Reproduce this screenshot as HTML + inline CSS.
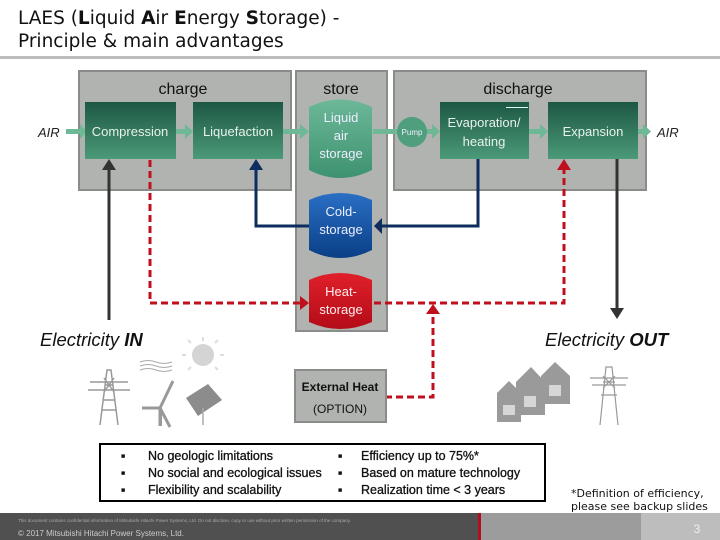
<!DOCTYPE html>
<html><head><meta charset="utf-8"><style>
body{margin:0;width:720px;height:540px;overflow:hidden;background:#fff;font-family:"Liberation Sans",sans-serif}
svg{position:absolute;left:0;top:0}
</style></head><body>
<svg width="720" height="540" viewBox="0 0 720 540" xmlns="http://www.w3.org/2000/svg" font-family="Liberation Sans, sans-serif">
<defs>
<linearGradient id="gb" x1="0" y1="0" x2="0" y2="1"><stop offset="0" stop-color="#1d5744"/><stop offset="1" stop-color="#4b9a78"/></linearGradient>
<linearGradient id="gl" x1="0" y1="0" x2="0" y2="1"><stop offset="0" stop-color="#6cb898"/><stop offset="1" stop-color="#3e9270"/></linearGradient>
<linearGradient id="gc" x1="0" y1="0" x2="0" y2="1"><stop offset="0" stop-color="#2a6fc4"/><stop offset="1" stop-color="#0a3f86"/></linearGradient>
<linearGradient id="gr" x1="0" y1="0" x2="0" y2="1"><stop offset="0" stop-color="#e0202a"/><stop offset="1" stop-color="#b30c18"/></linearGradient>
</defs>
<text x="18" y="24" font-size="18.5" fill="#111" font-family="DejaVu Sans, sans-serif">LAES (<tspan font-weight="bold">L</tspan>iquid <tspan font-weight="bold">A</tspan>ir <tspan font-weight="bold">E</tspan>nergy <tspan font-weight="bold">S</tspan>torage) -</text>
<text x="18" y="47" font-size="18.5" fill="#111" font-family="DejaVu Sans, sans-serif">Principle &amp; main advantages</text>
<rect x="0" y="56" width="720" height="3" fill="#bdbdbd"/>

<rect x="79" y="71" width="212" height="119" fill="#b0b3b0" stroke="#8a8c8a" stroke-width="2"/>
<rect x="296" y="71" width="91" height="260" fill="#b0b3b0" stroke="#8a8c8a" stroke-width="2"/>
<rect x="394" y="71" width="252" height="119" fill="#b0b3b0" stroke="#8a8c8a" stroke-width="2"/>
<text x="183" y="94" font-size="16" text-anchor="middle" fill="#111">charge</text>
<text x="341" y="94" font-size="16" text-anchor="middle" fill="#111">store</text>
<text x="518" y="94" font-size="16" text-anchor="middle" fill="#111">discharge</text>

<g fill="#6fb895">
<rect x="66" y="129" width="16" height="5"/><polygon points="80,124 87,131.5 80,139"/>
<rect x="176" y="129" width="11" height="5"/><polygon points="185,124 193,131.5 185,139"/>
<rect x="283" y="129" width="19" height="5"/><polygon points="300,124 309,131.5 300,139"/>
<rect x="373" y="129" width="24" height="5"/>
<rect x="425" y="129" width="10" height="5"/><polygon points="432,124 440,131.5 432,139"/>
<rect x="529" y="129" width="12" height="5"/><polygon points="540,124 548,131.5 540,139"/>
<rect x="638" y="129" width="7" height="5"/><polygon points="643,124 651,131.5 643,139"/>
</g>
<rect x="389" y="71" width="3" height="120" fill="#fff"/>
<rect x="389" y="129" width="3" height="5" fill="#6fb895"/>
<text x="38" y="137" font-size="13" font-style="italic" fill="#222">AIR</text>
<text x="657" y="137" font-size="13" font-style="italic" fill="#222">AIR</text>

<rect x="85" y="102" width="91" height="57" fill="url(#gb)"/>
<rect x="193" y="102" width="90" height="57" fill="url(#gb)"/>
<rect x="440" y="102" width="89" height="57" fill="url(#gb)"/>
<rect x="548" y="102" width="90" height="57" fill="url(#gb)"/>
<g fill="#e8f2ec" font-size="13" text-anchor="middle">
<text x="130" y="136">Compression</text>
<text x="238" y="136">Liquefaction</text>
<text x="484" y="127">Evaporation/</text>
<text x="484" y="146">heating</text>
<text x="593" y="136">Expansion</text>
</g>
<rect x="506" y="107" width="22" height="1" fill="#dfe"/>
<circle cx="412" cy="132" r="15" fill="#4f9e7c"/>
<text x="412" y="135" font-size="8" text-anchor="middle" fill="#eef">Pump</text>

<path d="M309,107 Q340,92 372,107 L372,170 Q340,186 309,170 Z" fill="url(#gl)"/>
<g fill="#eef" font-size="13" text-anchor="middle"><text x="341" y="122">Liquid</text><text x="341" y="140">air</text><text x="341" y="158">storage</text></g>
<path d="M309,200 Q340,186 372,200 L372,250 Q340,266 309,250 Z" fill="url(#gc)"/>
<g fill="#eef" font-size="13" text-anchor="middle"><text x="341" y="216">Cold-</text><text x="341" y="234">storage</text></g>
<path d="M309,280 Q340,266 372,280 L372,322 Q340,336 309,322 Z" fill="url(#gr)"/>
<g fill="#fee" font-size="13" text-anchor="middle"><text x="341" y="296">Heat-</text><text x="341" y="314">storage</text></g>

<g stroke="#0c2d5e" stroke-width="3" fill="none">
<polyline points="309,226 256,226 256,168"/>
<polyline points="478,159 478,226 382,226"/>
</g>
<polygon points="249,170 256,159 263,170" fill="#0c2d5e"/>
<polygon points="382,218 374,226 382,234" fill="#0c2d5e"/>

<g stroke="#c0101e" stroke-width="3" fill="none" stroke-dasharray="7,4">
<polyline points="150,160 150,303 300,303"/>
<polyline points="374,303 564,303 564,168"/>
<polyline points="385,397 433,397 433,313"/>
</g>
<polygon points="300,296 309,303 300,310" fill="#c0101e"/>
<polygon points="557,170 564,159 571,170" fill="#c0101e"/>
<polygon points="426,314 433,304 440,314" fill="#c0101e"/>

<rect x="107.5" y="168" width="3" height="152" fill="#333"/>
<polygon points="102,170 109,159 116,170" fill="#333"/>
<rect x="615.5" y="159" width="3" height="150" fill="#333"/>
<polygon points="610,308 617,319 624,308" fill="#333"/>

<text x="40" y="346" font-size="18.5" font-style="italic" fill="#111">Electricity <tspan font-weight="bold">IN</tspan></text>
<text x="545" y="346" font-size="18.5" font-style="italic" fill="#111">Electricity <tspan font-weight="bold">OUT</tspan></text>

<rect x="295" y="370" width="91" height="52" fill="#b0b3b0" stroke="#8a8c8a" stroke-width="2"/>
<text x="340" y="391" font-size="12" text-anchor="middle" fill="#111" font-weight="bold">External Heat</text>
<text x="340" y="413" font-size="12" text-anchor="middle" fill="#111">(OPTION)</text>

<g stroke="#999" stroke-width="1.5" fill="none">
<path d="M100,425 L107,370 L111,370 L118,425 M103,400 L115,400 M105,385 L113,385 M104,392 L114,378 M104,378 L114,392 M102,410 L116,410 M90,382 L128,382 M88,390 L130,390"/>
</g>
<circle cx="203" cy="355" r="11" fill="#d4d4d4"/>
<g stroke="#ddd" stroke-width="2"><line x1="203" y1="337" x2="203" y2="341"/><line x1="186" y1="355" x2="182" y2="355"/><line x1="220" y1="355" x2="224" y2="355"/><line x1="191" y1="343" x2="188" y2="340"/><line x1="215" y1="343" x2="218" y2="340"/><line x1="191" y1="367" x2="188" y2="370"/><line x1="215" y1="367" x2="218" y2="370"/></g>
<g stroke="#aaa" stroke-width="1" fill="none"><path d="M140,362 q8,-3 16,0 q8,3 16,0 M140,366 q8,-3 16,0 q8,3 16,0 M140,370 q8,-3 16,0 q8,3 16,0"/></g>
<g stroke="#999" stroke-width="3" fill="none"><path d="M160,408 L173,381 M160,408 L142,408 M160,408 L170,427"/></g>
<rect x="158.5" y="408" width="3.5" height="18" fill="#999"/>
<polygon points="186,398 208,384 222,400 198,416" fill="#8c8c8c"/>
<line x1="203" y1="408" x2="203" y2="425" stroke="#aaa" stroke-width="1.5"/>

<g fill="#9a9a9a">
<polygon points="497,393 509,381 521,393 521,422 497,422"/>
<polygon points="516,382 531,367 545,382 545,415 516,415"/>
<polygon points="541,376 555,362 570,376 570,404 541,404"/>
</g>
<g fill="#d6d6d6"><rect x="503" y="405" width="12" height="10"/><rect x="524" y="396" width="12" height="11"/><rect x="549" y="385" width="12" height="11"/></g>
<g stroke="#999" stroke-width="1.2" fill="none">
<path d="M600,425 L606,367 L612,367 L618,425 M601,395 L617,395 M603,382 L615,382 M603,388 L615,376 M603,376 L615,388 M590,378 L628,378 M592,385 L626,385"/>
</g>

<rect x="100" y="444" width="445" height="57" fill="#fff" stroke="#000" stroke-width="2"/>
<g font-size="12.5" fill="#111" stroke="#111" stroke-width="0.3">
<text x="121" y="460">▪</text><text x="121" y="477">▪</text><text x="121" y="494">▪</text>
<text x="148" y="460">No geologic limitations</text>
<text x="148" y="477">No social and ecological issues</text>
<text x="148" y="494">Flexibility and scalability</text>
<text x="338" y="460">▪</text><text x="338" y="477">▪</text><text x="338" y="494">▪</text>
<text x="361" y="460">Efficiency up to 75%*</text>
<text x="361" y="477">Based on mature technology</text>
<text x="361" y="494">Realization time &lt; 3 years</text>
</g>
<text x="571" y="497" font-size="11" fill="#111" font-family="DejaVu Sans, sans-serif">*Definition of efficiency,</text>
<text x="571" y="510" font-size="11" fill="#111" font-family="DejaVu Sans, sans-serif">please see backup slides</text>

<rect x="0" y="513" width="480" height="27" fill="#505050"/>
<rect x="478" y="513" width="3" height="27" fill="#b0101c"/>
<rect x="481" y="513" width="160" height="27" fill="#9c9c9c"/>
<rect x="641" y="513" width="79" height="27" fill="#bdbdbd"/>
<text x="18" y="522" font-size="4.5" fill="#aaa">This document contains confidential information of Mitsubishi Hitachi Power Systems, Ltd. Do not disclose, copy or use without prior written permission of the company.</text>
<text x="18" y="536" font-size="8" fill="#ccc">© 2017 Mitsubishi Hitachi Power Systems, Ltd.</text>
<text x="697" y="533" font-size="12" fill="#eee" text-anchor="middle">3</text>
</svg>
</body></html>
